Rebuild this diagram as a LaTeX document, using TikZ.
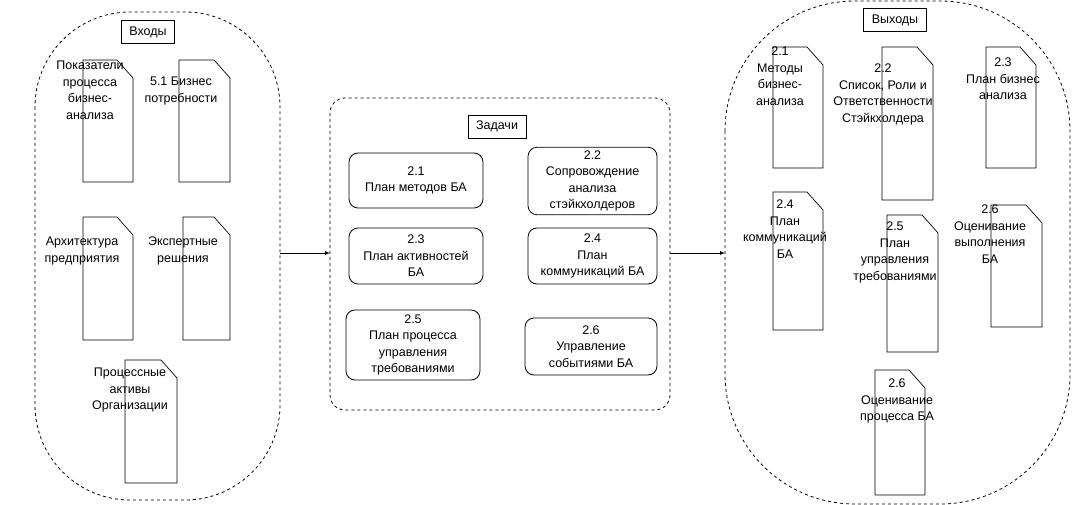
\documentclass[tikz,border=0pt]{standalone}
\usepackage{fontspec}
\setmainfont{Liberation Sans}
\begin{document}
\begin{tikzpicture}[x=1pt,y=-1pt,
  every node/.style={font=\fontsize{12.5}{16.5}\selectfont},
  cont/.style={draw,dashed,line width=0.8pt},
  lbl/.style={draw,line width=0.7pt,minimum height=23pt,inner xsep=8pt},
  task/.style={draw,line width=0.8pt,rounded corners=9pt,align=center},
  txt/.style={align=center,inner sep=0pt,anchor=north},
  arr/.style={-latex,line width=0.7pt}]
\useasboundingbox (0,0) rectangle (1076,505);
\newcommand{\docshape}[4]{\draw[line width=0.7pt] (#1,#2) -- (#3-16,#2) -- (#3,#2+18) -- (#3,#4) -- (#1,#4) -- cycle;}
% containers
\draw[cont,rounded corners=95pt] (35,12) rectangle (280,500);
\coordinate (inR) at (280,253);
\draw[cont,rounded corners=15pt] (330,98) rectangle (670,410);
\coordinate (midL) at (330,253);
\coordinate (midR) at (670,253);
\draw[cont,rounded corners=130pt] (725,1) rectangle (1070,504);
\coordinate (outL) at (725,253);
\draw[arr] (inR) -- (midL);
\draw[arr] (midR) -- (outL);
% inputs
\node[lbl] (vh) at (148,32) {Входы};
\docshape{83}{60}{133}{182}
\docshape{179}{60}{230}{182}
\docshape{83}{217}{133}{340}
\docshape{183}{217}{230}{340}
\docshape{125}{360}{177}{483}
\node[txt] (i1) at (90,61) {Показатели\\процесса\\бизнес-\\анализа};
\node[txt] (i2) at (181,77) {5.1 Бизнес\\потребности};
\node[txt] (i3) at (82,237) {Архитектура\\предприятия};
\node[txt] (i4) at (183,237) {Экспертные\\решения};
\node[txt] (i5) at (130,368) {Процессные\\активы\\Организации};
% tasks
\node[lbl] (zd) at (497,126.5) {Задачи};
\node[task,minimum width=134pt,minimum height=55pt] (t1) at (416,180.5) {2.1\\План методов БА};
\node[task,minimum width=129pt,minimum height=66pt] (t2) at (592.5,181) {2.2\\Сопровождение\\анализа\\стэйкхолдеров};
\node[task,minimum width=134pt,minimum height=56pt] (t3) at (416,256) {2.3\\План активностей\\БА};
\node[task,minimum width=129pt,minimum height=56pt] (t4) at (592.5,256) {2.4\\План\\коммуникаций БА};
\node[task,minimum width=134pt,minimum height=70pt] (t5) at (413,345) {2.5\\План процесса\\управления\\требованиями};
\node[task,minimum width=132pt,minimum height=57pt] (t6) at (591,346.5) {2.6\\Управление\\событиями БА};
% outputs
\node[lbl] (vy) at (895,20) {Выходы};
\docshape{773}{47}{823}{168}
\docshape{882}{47}{933}{200}
\docshape{986}{47}{1036}{168}
\docshape{773}{192}{823}{330}
\docshape{887}{215}{938}{352}
\docshape{991}{205}{1042}{327}
\docshape{875}{370}{925}{495}
\node[txt] (o1) at (780,47) {2.1\\Методы\\бизнес-\\анализа};
\node[txt] (o2) at (883,64) {2.2\\Список, Роли и\\Ответственности\\Стэйкхолдера};
\node[txt] (o3) at (1003,58) {2.3\\План бизнес\\анализа};
\node[txt] (o4) at (785,200) {2.4\\План\\коммуникаций\\БА};
\node[txt] (o5) at (895,222) {2.5\\План\\управления\\требованиями};
\node[txt] (o6) at (990,205) {2.6\\Оценивание\\выполнения\\БА};
\node[txt] (o7) at (897,379) {2.6\\Оценивание\\процесса БА};
\end{tikzpicture}
\end{document}
